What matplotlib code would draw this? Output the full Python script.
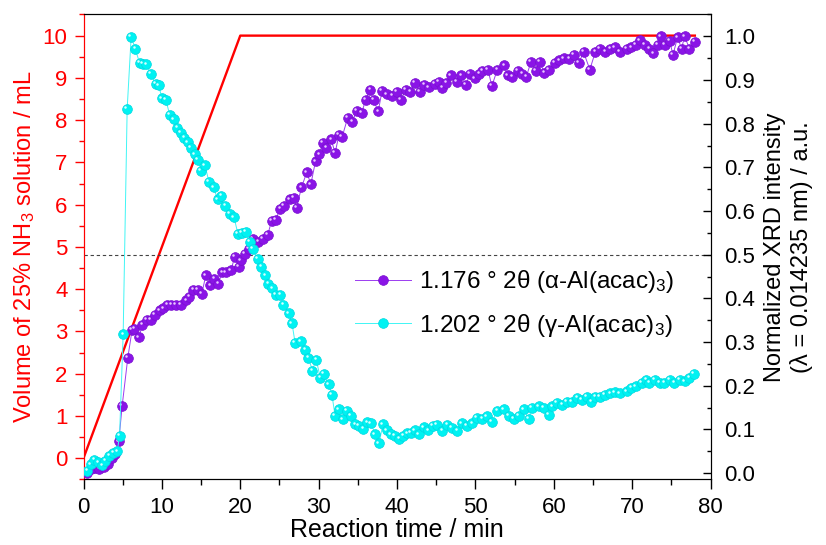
import matplotlib
matplotlib.use('Agg')
import matplotlib.pyplot as plt
import matplotlib.transforms as mtransforms
from matplotlib.ticker import MultipleLocator

plt.rcParams['font.family'] = ['Liberation Sans', 'DejaVu Sans']
plt.rcParams['mathtext.fontset'] = 'custom'
plt.rcParams['mathtext.rm'] = 'Liberation Sans'
plt.rcParams['mathtext.it'] = 'Liberation Sans:italic'

# Объём раствора NH3 (левая ось)
vol_t = [0, 20, 78]
vol_ml = [0, 10, 10]

# alpha-Al(acac)3, 1.176 град 2theta (правая ось)
a_t = [0.5, 1.0, 1.5, 2.0, 2.6, 3.1, 3.6, 4.0, 4.5, 4.93, 5.65, 6.2, 6.5, 7.06, 7.5,
       8.1, 8.6, 9.1, 9.7, 10.2, 10.7, 11.2, 11.8, 12.4, 13.1, 13.5, 14.0, 14.6, 15.1,
       15.6, 16.2, 16.7, 17.2, 17.7, 18.2, 18.8, 19.3, 19.8, 20.1, 20.6, 21.1, 21.6,
       22.3, 22.9, 23.5, 24.0, 24.5, 25.1, 25.6, 26.3, 26.8, 27.2, 27.8, 28.5, 29.0,
       29.6, 30.1, 30.5, 31.0, 31.6, 32.1, 32.6, 33.0, 33.7, 34.3, 34.9, 35.5, 36.0,
       36.6, 37.0, 37.6, 38.1, 38.7, 39.4, 40.0, 40.5, 41.1, 41.7, 42.3, 42.9, 43.5,
       44.1, 44.8, 45.3, 45.8, 46.3, 46.9, 47.6, 48.2, 48.8, 49.3, 49.9, 50.5, 50.9,
       51.6, 52.1, 52.8, 53.7, 54.1, 54.7, 55.4, 56.0, 56.5, 57.1, 57.7, 58.2, 58.8,
       59.4, 60.1, 60.7, 61.3, 62.0, 62.6, 63.2, 63.8, 64.6, 65.3, 65.9, 66.6, 67.2,
       67.8, 68.4, 69.3, 69.9, 70.5, 71.0, 71.6, 72.2, 72.7, 73.3, 73.7, 74.2, 74.8,
       75.2, 75.8, 76.3, 76.7, 77.3, 78.0]
a_int = [0.0, 0.01, 0.012, 0.01, 0.014, 0.02, 0.035, 0.045, 0.073, 0.154, 0.264, 0.328,
         0.33, 0.311, 0.339, 0.351, 0.351, 0.362, 0.373, 0.377, 0.385, 0.386, 0.386,
         0.386, 0.396, 0.404, 0.419, 0.42, 0.411, 0.453, 0.43, 0.445, 0.434, 0.46, 0.46,
         0.464, 0.495, 0.472, 0.487, 0.502, 0.514, 0.536, 0.529, 0.536, 0.545, 0.578,
         0.58, 0.605, 0.612, 0.627, 0.63, 0.608, 0.654, 0.689, 0.661, 0.714, 0.73,
         0.756, 0.745, 0.764, 0.733, 0.775, 0.77, 0.813, 0.805, 0.83, 0.825, 0.855,
         0.877, 0.855, 0.828, 0.876, 0.867, 0.864, 0.873, 0.855, 0.877, 0.873, 0.894,
         0.873, 0.889, 0.883, 0.892, 0.896, 0.882, 0.893, 0.911, 0.896, 0.911, 0.889,
         0.914, 0.904, 0.914, 0.921, 0.924, 0.886, 0.924, 0.934, 0.911, 0.908, 0.921,
         0.914, 0.908, 0.942, 0.921, 0.942, 0.917, 0.924, 0.939, 0.945, 0.95, 0.948,
         0.957, 0.939, 0.964, 0.924, 0.964, 0.972, 0.964, 0.972, 0.975, 0.964, 0.972,
         0.975, 0.98, 0.991, 0.98, 0.972, 0.961, 0.98, 1.0, 0.98, 0.99, 0.957, 0.998,
         0.972, 1.0, 0.972, 0.987]

# gamma-Al(acac)3, 1.202 град 2theta (правая ось)
g_t = [0.5, 0.9, 1.4, 1.9, 2.4, 2.8, 3.3, 3.8, 4.3, 4.6, 5.06, 5.57, 6.08, 6.6, 7.15,
       7.6, 8.0, 8.6, 9.2, 9.6, 10.0, 10.5, 11.0, 11.5, 11.95, 12.4, 12.85, 13.3, 13.7,
       14.2, 14.6, 15.0, 15.5, 16.0, 16.6, 17.1, 17.6, 18.1, 18.7, 19.2, 19.7, 20.2,
       20.7, 21.2, 21.6, 22.2, 22.7, 23.2, 23.6, 24.1, 24.5, 25.1, 25.5, 26.2, 26.6,
       27.0, 27.7, 28.3, 28.7, 29.2, 29.7, 30.2, 30.7, 31.3, 31.7, 32.1, 32.6, 33.1,
       33.6, 34.1, 34.7, 35.1, 35.7, 36.2, 36.7, 37.2, 37.7, 38.2, 38.7, 39.2, 39.7,
       40.3, 40.8, 41.3, 41.8, 42.3, 42.8, 43.4, 44.0, 44.6, 45.1, 45.8, 46.4, 47.0,
       47.7, 48.3, 48.9, 49.6, 50.2, 50.9, 51.5, 52.1, 52.8, 53.6, 54.3, 54.9, 55.5,
       56.2, 56.8, 57.2, 58.1, 58.7, 59.4, 59.8, 60.4, 61.1, 61.7, 62.3, 63.0, 63.6,
       64.2, 64.8, 65.3, 65.9, 66.5, 67.2, 67.8, 68.4, 69.3, 69.9, 70.5, 71.2, 71.8,
       72.2, 72.9, 73.5, 74.1, 74.8, 75.4, 76.1, 76.7, 77.3, 77.9]
g_int = [0.005, 0.02, 0.03, 0.025, 0.018, 0.028, 0.04, 0.047, 0.05, 0.086, 0.318, 0.834,
         0.999, 0.972, 0.939, 0.937, 0.936, 0.914, 0.891, 0.888, 0.858, 0.855, 0.82,
         0.81, 0.79, 0.779, 0.768, 0.757, 0.745, 0.73, 0.718, 0.692, 0.705, 0.667,
         0.654, 0.627, 0.635, 0.612, 0.593, 0.586, 0.548, 0.55, 0.552, 0.53, 0.514,
         0.49, 0.473, 0.453, 0.434, 0.423, 0.408, 0.408, 0.385, 0.366, 0.343, 0.298,
         0.302, 0.283, 0.264, 0.235, 0.26, 0.218, 0.227, 0.203, 0.179, 0.131, 0.146,
         0.123, 0.143, 0.131, 0.112, 0.109, 0.101, 0.116, 0.114, 0.089, 0.068, 0.112,
         0.098, 0.089, 0.086, 0.078, 0.086, 0.091, 0.093, 0.098, 0.089, 0.105, 0.098,
         0.108, 0.11, 0.097, 0.111, 0.104, 0.097, 0.114, 0.108, 0.114, 0.127, 0.124,
         0.13, 0.117, 0.142, 0.146, 0.131, 0.124, 0.131, 0.146, 0.124, 0.149, 0.153,
         0.149, 0.134, 0.153, 0.161, 0.157, 0.164, 0.164, 0.172, 0.168, 0.175, 0.164,
         0.175, 0.175, 0.179, 0.183, 0.185, 0.183, 0.187, 0.195, 0.199, 0.207, 0.214,
         0.207, 0.214, 0.207, 0.207, 0.214, 0.207, 0.214, 0.21, 0.218, 0.227]

labels = ['1.176 ° 2θ (α-Al(acac)$_3$)', '1.202 ° 2θ (γ-Al(acac)$_3$)']
purple = '#8A14E6'
cyan = '#00F2F2'

fig = plt.figure(figsize=(8.26, 5.45), dpi=100)
ax1 = fig.add_axes([0.1011, 0.1206, 0.7591, 0.8528])
ax2 = ax1.twinx()

# Красная линия - объём
ax1.plot(vol_t, vol_ml, color='red', lw=1.7, zorder=2)
ax1.set_xlim(0, 80)
ax1.set_ylim(-0.5, 10.5)
ax1.xaxis.set_major_locator(MultipleLocator(10))
ax1.xaxis.set_minor_locator(MultipleLocator(5))
ax1.yaxis.set_major_locator(MultipleLocator(1))
ax1.yaxis.set_minor_locator(MultipleLocator(0.5))
ax1.tick_params(axis='y', which='both', colors='red', direction='out', labelsize=16, pad=5)
ax1.tick_params(axis='y', which='major', length=6.5, width=1)
ax1.tick_params(axis='y', which='minor', length=3.6, width=1)
ax1.tick_params(axis='x', which='both', direction='out', labelsize=16, width=1, pad=6)
ax1.tick_params(axis='x', which='major', length=7)
ax1.tick_params(axis='x', which='minor', length=4.5)
ax1.spines['left'].set_color('red')
ax1.set_xlabel('Reaction time / min', fontsize=18, labelpad=0)
ax1.set_ylabel('Volume of 25% NH$_3$ solution / mL', color='red', fontsize=17, labelpad=4)

# Данные XRD (правая ось)
hl = mtransforms.offset_copy(ax2.transData, fig=fig, x=-1.2, y=1.2, units='points')
ax2.plot(a_t, a_int, color='#9B3CF0', lw=0.7, marker='o', ms=7, mfc=purple, mec='#7A10D0',
         mew=0.5, label=labels[0], zorder=3)
ax2.plot(a_t, a_int, ls='none', marker='o', ms=1.8, mfc='#E8C8FF', mec='none',
         transform=hl, zorder=3)
ax2.plot(g_t, g_int, color='#40F5F5', lw=0.7, marker='o', ms=7, mfc=cyan, mec='#00D8E0',
         mew=0.5, label=labels[1], zorder=4)
ax2.plot(g_t, g_int, ls='none', marker='o', ms=1.8, mfc='#D8FFFF', mec='none',
         transform=hl, zorder=4)
ax2.axhline(0.5, color='#444444', lw=0.8, ls=(0, (3, 2.5)), zorder=1)

ax2.set_ylim(-0.014, 1.05)
ax2.yaxis.set_major_locator(MultipleLocator(0.1))
ax2.yaxis.set_minor_locator(MultipleLocator(0.05))
ax2.tick_params(axis='y', which='both', direction='in', labelsize=16, width=1, pad=10)
ax2.tick_params(axis='y', which='major', length=5.5)
ax2.tick_params(axis='y', which='minor', length=3)
ax2.spines['left'].set_color('red')
ax2.set_ylabel('Normalized XRD intensity\n(λ = 0.014235 nm) / a.u.', fontsize=17,
               labelpad=6, linespacing=1.25)

leg = ax2.legend(loc='center left', bbox_to_anchor=(0.418, 0.378), frameon=False,
                 fontsize=17.5, handlelength=2.3, handletextpad=0.34, labelspacing=0.68,
                 borderaxespad=0)

fig.savefig('out.png', dpi=100)
